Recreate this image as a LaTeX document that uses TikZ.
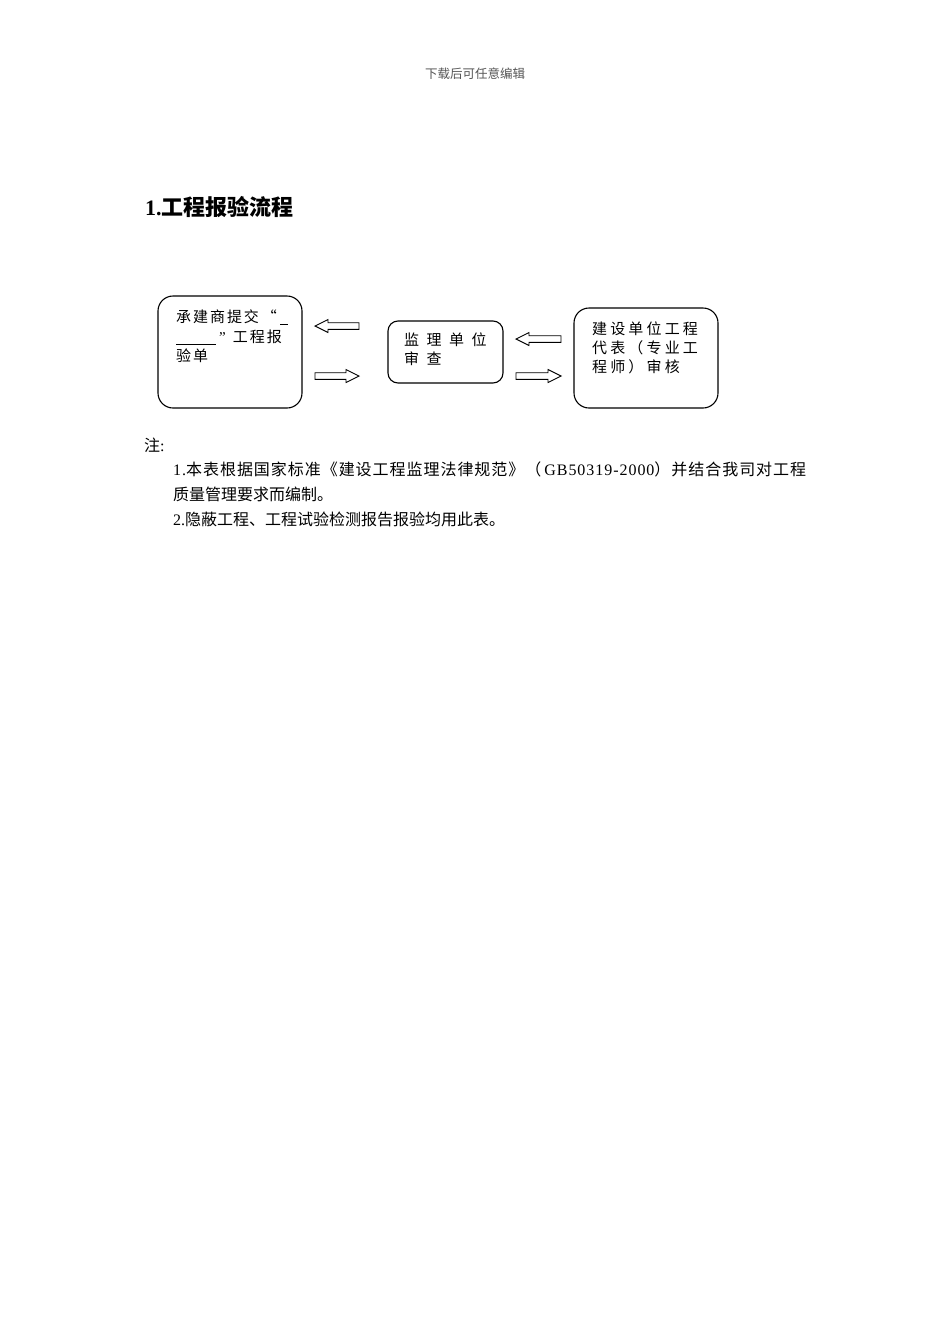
\documentclass[tikz,border=0pt]{standalone}
\usepackage{fontspec}
\setmainfont{Liberation Serif}
\newfontfamily\cjk{Noto Sans CJK SC}
\newfontfamily\cjkbox[LetterSpace=13]{Noto Sans CJK SC}
\newfontfamily\cjkboxw[LetterSpace=50]{Noto Sans CJK SC}
\newfontfamily\cjkboxm[LetterSpace=21]{Noto Sans CJK SC}
\newfontfamily\cjkn[LetterSpace=6]{Noto Sans CJK SC}
\newfontfamily\latn[LetterSpace=6]{Liberation Serif}
\definecolor{headgray}{HTML}{555555}
\tikzset{
  flowbox/.style={draw, line width=1.1pt, inner sep=0pt},
  boxtext/.style={anchor=base west, inner sep=0pt, font=\fontsize{15}{15}\selectfont},
  notetext/.style={anchor=base west, inner sep=0pt, font=\fontsize{16}{16}\selectfont},
  blockarrow/.style={draw, line width=0.9pt, fill=white, line join=miter}
}
\newcommand{\larrow}[3]{% tip x, tail x, y
  \draw[blockarrow] (#1,#3) -- (#1+13,#3-6.5) -- (#1+13,#3-3.3) -- (#2,#3-3.3) -- (#2,#3+3.3) -- (#1+13,#3+3.3) -- (#1+13,#3+6.5) -- cycle;}
\newcommand{\rarrow}[3]{% tail x, tip x, y
  \draw[blockarrow] (#2,#3) -- (#2-13,#3-6.5) -- (#2-13,#3-3.3) -- (#1,#3-3.3) -- (#1,#3+3.3) -- (#2-13,#3+3.3) -- (#2-13,#3+6.5) -- cycle;}
\begin{document}
\begin{tikzpicture}[x=1pt,y=-1pt]
\useasboundingbox[fill=white] (0,0) rectangle (950,1344);
% header
\node[inner sep=0pt, anchor=base, text=headgray, font=\fontsize{12.5}{12.5}\selectfont\cjk] (hdr) at (475,78.5) {下载后可任意编辑};
% title
\node[inner sep=0pt, anchor=base west, font=\fontsize{22}{22}\selectfont\bfseries] (title) at (145,215.5) {1.{\cjk\bfseries 工程报验流程}};
% boxes
\node[flowbox, rounded corners=15pt, minimum width=144pt, minimum height=112pt] (b1) at (230,352) {};
\node[flowbox, rounded corners=10pt, minimum width=115pt, minimum height=62pt] (b2) at (445.5,352) {};
\node[flowbox, rounded corners=15pt, minimum width=144pt, minimum height=100pt] (b3) at (646,358) {};
% box texts
\node[boxtext] (t11) at (176,322) {\cjkbox 承建商提交\hspace{3pt}“\hspace{3pt}\rule[-2.5pt]{8pt}{0.7pt}};
\node[boxtext] (t12) at (176,342) {\rule[-2.5pt]{40pt}{0.7pt}\hspace{3pt}”\hspace{7pt}{\cjkbox 工程报}};
\node[boxtext] (t13) at (176,361) {\cjkbox 验单};
\node[boxtext] (t21) at (404,345) {\cjkboxw 监理单位};
\node[boxtext] (t22) at (404,364) {\cjkboxw 审查};
\node[boxtext] (t31) at (592,334) {\cjkboxm 建设单位工程};
\node[boxtext] (t32) at (592,353) {\cjkboxm 代表（专业工};
\node[boxtext] (t33) at (592,372) {\cjkboxm 程师）审核};
% block arrows
\larrow{315}{359}{326}
\rarrow{315}{359}{376}
\larrow{516}{561}{339}
\rarrow{516}{561}{376}
% notes
\node[notetext] (n0) at (144,451) {{\cjk 注}:};
\node[notetext] (n1) at (173,475) {{\latn 1.}{\cjkn 本表根据国家标准《建设工程监理法律规范》（}{\latn\hspace{3pt}GB50319-2000}{\cjkn ）并结合我司对工程}};
\node[notetext] (n2) at (173,500) {\cjk 质量管理要求而编制。};
\node[notetext] (n3) at (173,525) {2.{\cjk 隐蔽工程、工程试验检测报告报验均用此表。}};
\end{tikzpicture}
\end{document}
